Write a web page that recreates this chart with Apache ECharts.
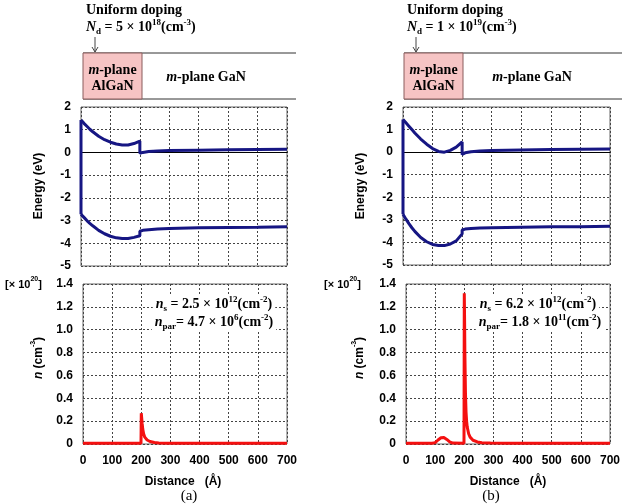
<!DOCTYPE html>
<html>
<head>
<meta charset="utf-8">
<script src="https://cdn.jsdelivr.net/npm/echarts@6/dist/echarts.min.js"></script>
<style>
  html, body { margin: 0; padding: 0; background: #fff; }
  #chart { position: absolute; left: 0; top: 0; width: 624px; height: 504px; }
</style>
</head>
<body>
<div id="chart"></div>
<script>
// ---- data (distance in Angstrom) ----
const bandDist = [0, 10, 20, 30, 40, 60, 80, 100, 120, 140, 160, 180, 200, 200, 210, 230, 260, 300, 400, 500, 600, 700];
// (a) Nd = 5e18
const ecA = [1.43, 1.28, 1.15, 1.02, 0.91, 0.71, 0.56, 0.45, 0.37, 0.33, 0.33, 0.39, 0.50, -0.04, 0.00, 0.04, 0.06, 0.08, 0.10, 0.12, 0.13, 0.14];
const evA = [-2.72, -2.86, -3.00, -3.12, -3.23, -3.43, -3.58, -3.69, -3.76, -3.79, -3.79, -3.74, -3.67, -3.47, -3.43, -3.40, -3.37, -3.35, -3.32, -3.30, -3.29, -3.27];
// (b) Nd = 1e19
const ecB = [1.45, 1.30, 1.15, 1.00, 0.85, 0.58, 0.35, 0.16, 0.03, 0.00, 0.08, 0.22, 0.45, -0.10, -0.03, 0.02, 0.05, 0.07, 0.10, 0.12, 0.13, 0.14];
const evB = [-2.75, -2.97, -3.17, -3.35, -3.51, -3.78, -3.97, -4.09, -4.14, -4.14, -4.07, -3.93, -3.62, -3.45, -3.41, -3.38, -3.36, -3.35, -3.33, -3.31, -3.30, -3.28];

// electron density, units of 1e20 cm^-3
const nDistA = [0, 199, 200, 201, 203, 205, 208, 212, 216, 220, 230, 245, 260, 290, 350, 700];
const nA = [0.006, 0.006, 0.27, 0.24, 0.18, 0.13, 0.09, 0.06, 0.045, 0.035, 0.022, 0.013, 0.009, 0.007, 0.006, 0.006];
const nDistB = [0, 90, 100, 110, 120, 125, 130, 140, 150, 160, 199, 200, 201, 202, 204, 206, 208, 210, 215, 220, 230, 245, 260, 290, 350, 700];
const nB = [0.006, 0.006, 0.012, 0.035, 0.055, 0.06, 0.057, 0.04, 0.018, 0.008, 0.006, 1.32, 1.1, 0.8, 0.45, 0.28, 0.2, 0.15, 0.09, 0.06, 0.033, 0.018, 0.011, 0.008, 0.006, 0.006];

const energyTicks = [-5, 2, 1];     // min, max, step
const densityTicks = [0, 1.4, 0.2];
const distTicks = [0, 700, 100];

const SANS = "'Liberation Sans', Arial, sans-serif";
const SERIF = "'Liberation Serif', 'Times New Roman', serif";
const NAVY = '#161683';
const RED = '#f41010';

const zip = (xs, ys) => xs.map((x, i) => [x, ys[i]]);

const chart = echarts.init(document.getElementById('chart'));

/* ========================
    grids / axes
========================= */
const grids = [
    { left: 81, top: 107, width: 206, height: 159 },
    { left: 83, top: 284, width: 204, height: 160 },
    { left: 403, top: 107, width: 207, height: 158 },
    { left: 406, top: 284, width: 204, height: 160 }
].map(g => Object.assign(g, { show: true, borderColor: '#666', borderWidth: 1 }));

const dashed = { show: true, lineStyle: { color: '#444', width: 1, type: [2, 2] } };
const tickFont = { fontFamily: SANS, fontWeight: 'bold', fontSize: 12, color: '#000' };

function xAxisFor(idx, isEnergy) {
    return {
        type: 'value', gridIndex: idx,
        min: distTicks[0], max: distTicks[1], interval: distTicks[2],
        splitLine: dashed,
        axisTick: { show: false },
        axisLine: isEnergy
            ? { show: true, onZero: true, lineStyle: { color: '#000', width: 1 } }
            : { show: false },
        axisLabel: isEnergy ? { show: false } : Object.assign({ margin: 11 }, tickFont)
    };
}

function yAxisFor(idx, isEnergy) {
    const t = isEnergy ? energyTicks : densityTicks;
    return {
        type: 'value', gridIndex: idx,
        min: t[0], max: t[1], interval: t[2],
        splitLine: dashed,
        axisTick: { show: false },
        axisLine: { show: false },
        axisLabel: Object.assign({
            margin: 10,
            formatter: v => isEnergy ? String(v) : (v === 0 ? '0' : v.toFixed(1))
        }, tickFont)
    };
}

function bandSeries(idx, ec, ev) {
    const base = {
        type: 'line', xAxisIndex: idx, yAxisIndex: idx,
        showSymbol: false, symbol: 'none', silent: true,
        lineStyle: { color: NAVY, width: 3 }
    };
    return [
        Object.assign({}, base, { data: zip(bandDist, ec) }),
        Object.assign({}, base, { data: zip(bandDist, ev) }),
        // surface edge linking Ec and Ev at x = 0
        Object.assign({}, base, { data: [[bandDist[0], ec[0]], [bandDist[0], ev[0]]] })
    ];
}

function densitySeries(idx, xs, ys) {
    return {
        type: 'line', xAxisIndex: idx, yAxisIndex: idx,
        showSymbol: false, symbol: 'none', silent: true,
        lineStyle: { color: RED, width: 3 },
        data: zip(xs, ys)
    };
}

/* ========================
    text helpers
========================= */
function richStyles(family, size) {
    return {
        b: { fontFamily: family, fontWeight: 'bold', fontSize: size, lineHeight: 18, fill: '#000' },
        i: { fontFamily: family, fontWeight: 'bold', fontStyle: 'italic', fontSize: size, lineHeight: 18, fill: '#000' },
        r: { fontFamily: family, fontSize: size, lineHeight: 18, fill: '#000' },
        sup: { fontFamily: family, fontWeight: 'bold', fontSize: Math.round(size * 0.62), lineHeight: 10, verticalAlign: 'top', fill: '#000' },
        sub: { fontFamily: family, fontWeight: 'bold', fontSize: Math.round(size * 0.62), lineHeight: 10, verticalAlign: 'bottom', fill: '#000' }
    };
}

function label(x, y, text, opts) {
    opts = opts || {};
    const style = {
        text: text,
        rich: richStyles(opts.family || SERIF, opts.size || 14),
        align: opts.align || 'center',
        verticalAlign: 'middle'
    };
    if (opts.bg) {
        style.backgroundColor = opts.bg;
        style.padding = [0, 3];
    }
    return {
        type: 'text', x: x, y: y, silent: true, z: 10,
        rotation: opts.rotation || 0,
        style: style
    };
}

function line(x1, y1, x2, y2, color) {
    return {
        type: 'line', silent: true,
        shape: { x1: x1, y1: y1, x2: x2, y2: y2 },
        style: { stroke: color || '#333', lineWidth: 1 }
    };
}

function header(x0, arrowX, boxLeft, boxRight, lineEnd, gaNx, dopingText) {
    return [
        label(x0, 10, '{b|Uniform doping}', { align: 'left' }),
        label(x0, 27, dopingText, { align: 'left' }),
        line(arrowX, 37, arrowX, 52, '#444'),
        { type: 'polyline', silent: true, shape: { points: [[arrowX - 3, 47], [arrowX, 52], [arrowX + 3, 47]] },
          style: { stroke: '#444', lineWidth: 1, fill: null } },
        line(boxLeft, 53, lineEnd, 53),
        line(boxLeft, 99, lineEnd, 99),
        { type: 'rect', silent: true,
          shape: { x: boxLeft, y: 53, width: boxRight - boxLeft, height: 46 },
          style: { fill: '#f6c4c4', stroke: '#8a5c5c', lineWidth: 1 } },
        label((boxLeft + boxRight) / 2, 70, '{i|m}{b|-plane}'),
        label((boxLeft + boxRight) / 2, 86, '{b|AlGaN}'),
        label(gaNx, 77, '{i|m}{b|-plane GaN}')
    ];
}

function axisTitles(eX, nX, multX, distX, capX, capText) {
    return [
        label(eX, 186, '{b|Energy (eV)}', { family: SANS, size: 12, rotation: Math.PI / 2 }),
        label(nX, 358, '{i|n}{b| (cm}{sup|-3}{b|)}', { family: SANS, size: 12, rotation: Math.PI / 2 }),
        label(multX, 285, '{b|[× 10}{sup|20}{b|]}', { family: SANS, size: 11, align: 'left' }),
        label(distX, 482, '{b|Distance   (Å)}', { family: SANS, size: 12 }),
        label(capX, 496, '{r|' + capText + '}', { size: 15 })
    ];
}

const graphics = [].concat(
    header(86, 95, 83, 142, 296, 206, '{i|N}{sub|d}{b| = 5 × 10}{sup|18}{b|(cm}{sup|-3}{b|)}'),
    header(407, 416, 404, 463, 622, 532, '{i|N}{sub|d}{b| = 1 × 10}{sup|19}{b|(cm}{sup|-3}{b|)}'),
    axisTitles(39, 39, 5, 183, 189, '(a)'),
    axisTitles(361, 360, 324, 508, 491, '(b)'),
    [
        label(214, 304, '{i|n}{sub|s}{b| = 2.5 × 10}{sup|12}{b|(cm}{sup|-2}{b|)}', { bg: '#fff' }),
        label(214, 322, '{i|n}{sub|par}{b|= 4.7 × 10}{sup|6}{b|(cm}{sup|-2}{b|)}', { bg: '#fff' }),
        label(538, 304, '{i|n}{sub|s}{b| = 6.2 × 10}{sup|12}{b|(cm}{sup|-2}{b|)}', { bg: '#fff' }),
        label(540, 322, '{i|n}{sub|par}{b|= 1.8 × 10}{sup|11}{b|(cm}{sup|-2}{b|)}', { bg: '#fff' })
    ]
);

chart.setOption({
    animation: false,
    backgroundColor: '#fff',
    grid: grids,
    xAxis: [xAxisFor(0, true), xAxisFor(1, false), xAxisFor(2, true), xAxisFor(3, false)],
    yAxis: [yAxisFor(0, true), yAxisFor(1, false), yAxisFor(2, true), yAxisFor(3, false)],
    series: [].concat(
        bandSeries(0, ecA, evA),
        [densitySeries(1, nDistA, nA)],
        bandSeries(2, ecB, evB),
        [densitySeries(3, nDistB, nB)]
    ),
    graphic: graphics
});
</script>
</body>
</html>
